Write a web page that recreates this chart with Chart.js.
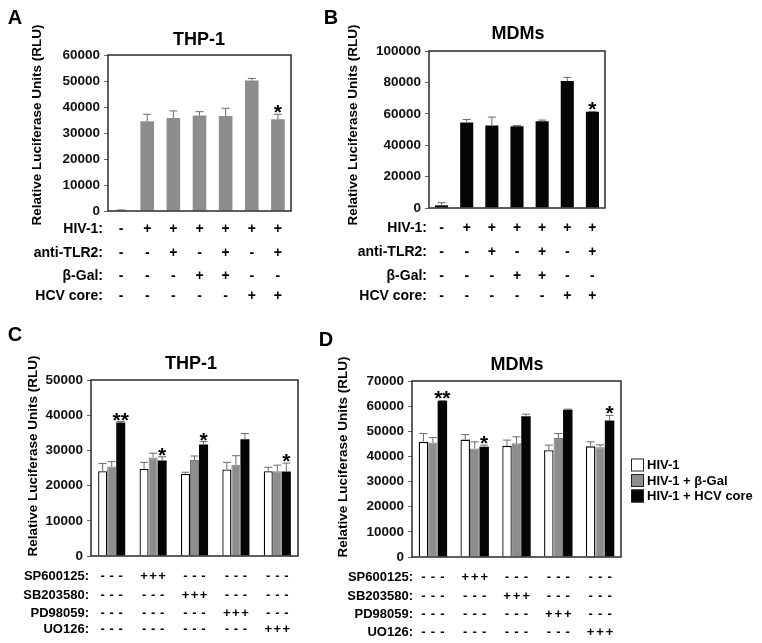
<!DOCTYPE html>
<html><head><meta charset="utf-8">
<script src="https://cdn.jsdelivr.net/npm/chart.js@4.4.1/dist/chart.umd.min.js"></script>
<style>
html,body{margin:0;padding:0;background:#fff}
body{width:762px;height:643px;position:relative;overflow:hidden}
.p{position:absolute}
</style></head><body>
<div class="p" style="left:0;top:0;width:318px;height:310px"><canvas id="cA"></canvas></div>
<div class="p" style="left:318px;top:0;width:300px;height:310px"><canvas id="cB"></canvas></div>
<div class="p" style="left:0;top:310px;width:318px;height:333px"><canvas id="cC"></canvas></div>
<div class="p" style="left:318px;top:310px;width:444px;height:333px"><canvas id="cD"></canvas></div>
<script>
// ---------- DATA ----------
const abCategories = ['1','2','3','4','5','6','7'];
const abRowLabels = ['HIV-1:', 'anti-TLR2:', 'β-Gal:', 'HCV core:'];
const abSigns = [
  ['-','+','+','+','+','+','+'],
  ['-','-','+','-','+','-','+'],
  ['-','-','-','+','+','-','-'],
  ['-','-','-','-','-','+','+']
];
const aTitle = 'THP-1';
const aValues = [300, 34500, 35800, 36700, 36500, 50200, 35300];
const aErrors = [100, 2700, 2700, 1500, 3000, 800, 1900];
const aStars  = ['', '', '', '', '', '', '*'];
const aTicks  = {min: 0, max: 60000, step: 10000};

const bTitle = 'MDMs';
const bValues = [1700, 54500, 52600, 52100, 55300, 80900, 61300];
const bErrors = [1700, 1900, 5300, 500, 700, 2300, 200];
const bStars  = ['', '', '', '', '', '', '*'];
const bTicks  = {min: 0, max: 100000, step: 20000};

const cdCategories = ['g1','g2','g3','g4','g5'];
const cdSeriesNames = ['HIV-1', 'HIV-1 + β-Gal', 'HIV-1 + HCV core'];
const cdRowLabels = ['SP600125:', 'SB203580:', 'PD98059:', 'UO126:'];
const cdSigns = [
  ['-','+','-','-','-'],
  ['-','-','+','-','-'],
  ['-','-','-','+','-'],
  ['-','-','-','-','+']
];
const cTitle = 'THP-1';
const cHiv  = [24100, 24700, 23300, 24600, 24100];
const cGal  = [25400, 28000, 27300, 25900, 24100];
const cCore = [37900, 27100, 31700, 33200, 24000];
const cHivErr  = [2200, 1900, 500, 2000, 1100];
const cGalErr  = [1400, 1200, 1100, 2600, 1700];
const cCoreErr = [300, 1100, 800, 1600, 2400];
const cCoreStars = ['**', '*', '*', '', '*'];
const cTicks = {min: 0, max: 50000, step: 10000};

const dTitle = 'MDMs';
const dHiv  = [45800, 46700, 44200, 42500, 44000];
const dGal  = [45500, 43200, 45200, 47300, 43700];
const dCore = [62000, 43800, 56000, 58600, 54300];
const dHivErr  = [3300, 2000, 2300, 2000, 1800];
const dGalErr  = [2000, 2600, 2600, 1800, 900];
const dCoreErr = [200, 700, 800, 200, 2000];
const dCoreStars = ['**', '*', '', '', '*'];
const dTicks = {min: 0, max: 70000, step: 10000};

// ---------- STYLE ----------
const FF = '"Liberation Sans", Arial, Helvetica, sans-serif';
const GRAY = '#8d8d8d', BLACK = '#050505', WHITE = '#ffffff';
const YTITLE = 'Relative Luciferase Units (RLU)';

const deco = {
  id: 'deco',
  afterDraw(chart, args, o) {
    const ctx = chart.ctx, ca = chart.chartArea, ys = chart.scales.y;
    ctx.save();
    // error bars + stars
    chart.data.datasets.forEach((ds, di) => {
      const meta = chart.getDatasetMeta(di);
      const errs = o.errors[di] || [];
      const stars = (o.stars && o.stars[di]) || [];
      meta.data.forEach((el, i) => {
        const top = ys.getPixelForValue(ds.data[i] + (errs[i] || 0));
        ctx.strokeStyle = o.errColor; ctx.lineWidth = 1;
        ctx.beginPath();
        ctx.moveTo(el.x, el.y); ctx.lineTo(el.x, top);
        ctx.moveTo(el.x - o.cap, top); ctx.lineTo(el.x + o.cap, top);
        ctx.stroke();
        if (stars[i]) {
          ctx.fillStyle = '#000';
          ctx.font = 'bold 21px ' + FF;
          ctx.textAlign = 'center'; ctx.textBaseline = 'alphabetic';
          ctx.fillText(stars[i], el.x, top + o.starDy);
        }
      });
    });
    // plot box
    ctx.strokeStyle = '#2a2a2a'; ctx.lineWidth = 1.5;
    ctx.strokeRect(ca.left, ca.top, ca.right - ca.left, ca.bottom - ca.top);
    // sign table
    ctx.fillStyle = '#000';
    ctx.textBaseline = 'middle';
    o.rowLabels.forEach((lab, r) => {
      const y = ca.bottom + o.rowDy[r];
      ctx.font = 'bold ' + o.rowFont + 'px ' + FF;
      ctx.textAlign = 'right';
      ctx.fillText(lab, o.labelRight, y);
      ctx.textAlign = 'center';
      ctx.font = 'bold ' + o.signFont + 'px ' + FF;
      chart.data.datasets.forEach((ds, di) => {
        chart.getDatasetMeta(di).data.forEach((el, i) => {
          ctx.fillText(o.signs[r][i], el.x, y);
        });
      });
    });
    // panel letter
    ctx.font = 'bold 20px ' + FF;
    ctx.textAlign = 'center'; ctx.textBaseline = 'middle';
    ctx.fillText(o.letter, o.letterX, o.letterY);
    // title
    ctx.font = 'bold 18px ' + FF;
    ctx.fillText(o.title, o.titleX, o.titleY);
    // y-axis title
    ctx.save();
    ctx.translate(o.yTitleX, o.yTitleY);
    ctx.rotate(-Math.PI / 2);
    ctx.font = 'bold 13.5px ' + FF;
    ctx.fillText(YTITLE, 0, 0);
    ctx.restore();
    // legend
    if (o.legend) {
      const L = o.legend;
      chart.data.datasets.forEach((ds, di) => {
        const cy = L.y + di * L.dy;
        ctx.fillStyle = ds.backgroundColor;
        ctx.fillRect(L.x, cy - L.box / 2, L.box, L.box);
        ctx.strokeStyle = '#222'; ctx.lineWidth = 1;
        ctx.strokeRect(L.x + 0.5, cy - L.box / 2 + 0.5, L.box - 1, L.box - 1);
        ctx.fillStyle = '#000';
        ctx.font = 'bold 13px ' + FF;
        ctx.textAlign = 'left'; ctx.textBaseline = 'middle';
        ctx.fillText(ds.label, L.x + L.box + 3, cy + 0.5);
      });
    }
    ctx.restore();
  }
};

function makeChart(id, labels, datasets, ticks, box, yWidth, extra, catPct, barPct) {
  return new Chart(document.getElementById(id), {
    type: 'bar',
    data: { labels, datasets },
    plugins: [deco],
    options: {
      responsive: true, maintainAspectRatio: false, animation: false,
      layout: { padding: box },
      datasets: { bar: { categoryPercentage: catPct, barPercentage: barPct } },
      scales: {
        x: { display: false },
        y: {
          min: ticks.min, max: ticks.max,
          afterFit(s) { s.width = yWidth; },
          ticks: { stepSize: ticks.step, padding: 4, color: '#111',
                   callback: (v) => String(v),
                   font: { family: FF, size: 13.5, weight: 'bold' } },
          grid: { display: true, drawOnChartArea: false, drawTicks: true, tickLength: 4, color: '#666' },
          border: { display: false }
        }
      },
      plugins: { legend: { display: false }, tooltip: { enabled: false }, deco: extra }
    }
  });
}

// A
makeChart('cA', abCategories,
  [{ label: aTitle, data: aValues, backgroundColor: GRAY, borderWidth: 0 }],
  aTicks, { left: 0, right: 27, top: 55, bottom: 99 }, 108,
  { errors: [aErrors], stars: [aStars], errColor: '#6a6a6a', cap: 4, starDy: 5,
    rowLabels: abRowLabels, signs: abSigns, rowDy: [18, 42, 65, 85], labelRight: 103,
    rowFont: 14, signFont: 14, letter: 'A', letterX: 15, letterY: 18,
    title: aTitle, titleX: 199, titleY: 40, yTitleX: 37, yTitleY: 125 }, 1.0, 0.52);

// B
makeChart('cB', abCategories,
  [{ label: bTitle, data: bValues, backgroundColor: BLACK, borderWidth: 0 }],
  bTicks, { left: 0, right: 13, top: 51, bottom: 102 }, 111,
  { errors: [bErrors], stars: [bStars], errColor: '#6a6a6a', cap: 4, starDy: 5,
    rowLabels: abRowLabels, signs: abSigns, rowDy: [20, 44, 68, 88], labelRight: 109,
    rowFont: 14, signFont: 14, letter: 'B', letterX: 13, letterY: 18,
    title: bTitle, titleX: 200, titleY: 34, yTitleX: 35, yTitleY: 125 }, 1.0, 0.52);

// C
makeChart('cC', cdCategories,
  [{ label: cdSeriesNames[0], data: cHiv, backgroundColor: WHITE, borderColor: '#000', borderWidth: 1.3 },
   { label: cdSeriesNames[1], data: cGal, backgroundColor: GRAY, borderColor: '#7a7a7a', borderWidth: 1 },
   { label: cdSeriesNames[2], data: cCore, backgroundColor: BLACK, borderWidth: 0 }],
  cTicks, { left: 0, right: 20, top: 70, bottom: 87 }, 91,
  { errors: [cHivErr, cGalErr, cCoreErr], stars: [[], [], cCoreStars], errColor: '#6a6a6a', cap: 4, starDy: 5,
    rowLabels: cdRowLabels, signs: cdSigns, rowDy: [20, 39, 57, 73], labelRight: 89,
    rowFont: 13, signFont: 13, letter: 'C', letterX: 15, letterY: 25,
    title: cTitle, titleX: 191, titleY: 54, yTitleX: 33, yTitleY: 146 }, 0.655, 1.0);

// D
makeChart('cD', cdCategories,
  [{ label: cdSeriesNames[0], data: dHiv, backgroundColor: WHITE, borderColor: '#000', borderWidth: 1.3 },
   { label: cdSeriesNames[1], data: dGal, backgroundColor: GRAY, borderColor: '#7a7a7a', borderWidth: 1 },
   { label: cdSeriesNames[2], data: dCore, backgroundColor: BLACK, borderWidth: 0 }],
  dTicks, { left: 0, right: 141, top: 71, bottom: 86 }, 94,
  { errors: [dHivErr, dGalErr, dCoreErr], stars: [[], [], dCoreStars], errColor: '#6a6a6a', cap: 4, starDy: 4.5,
    rowLabels: cdRowLabels, signs: cdSigns, rowDy: [20, 39, 57, 75], labelRight: 95,
    rowFont: 13, signFont: 13, letter: 'D', letterX: 8, letterY: 30,
    title: dTitle, titleX: 199, titleY: 55, yTitleX: 25, yTitleY: 147,
    legend: { x: 313, y: 155, dy: 15.5, box: 13 } }, 0.68, 1.0);
</script>
</body></html>
